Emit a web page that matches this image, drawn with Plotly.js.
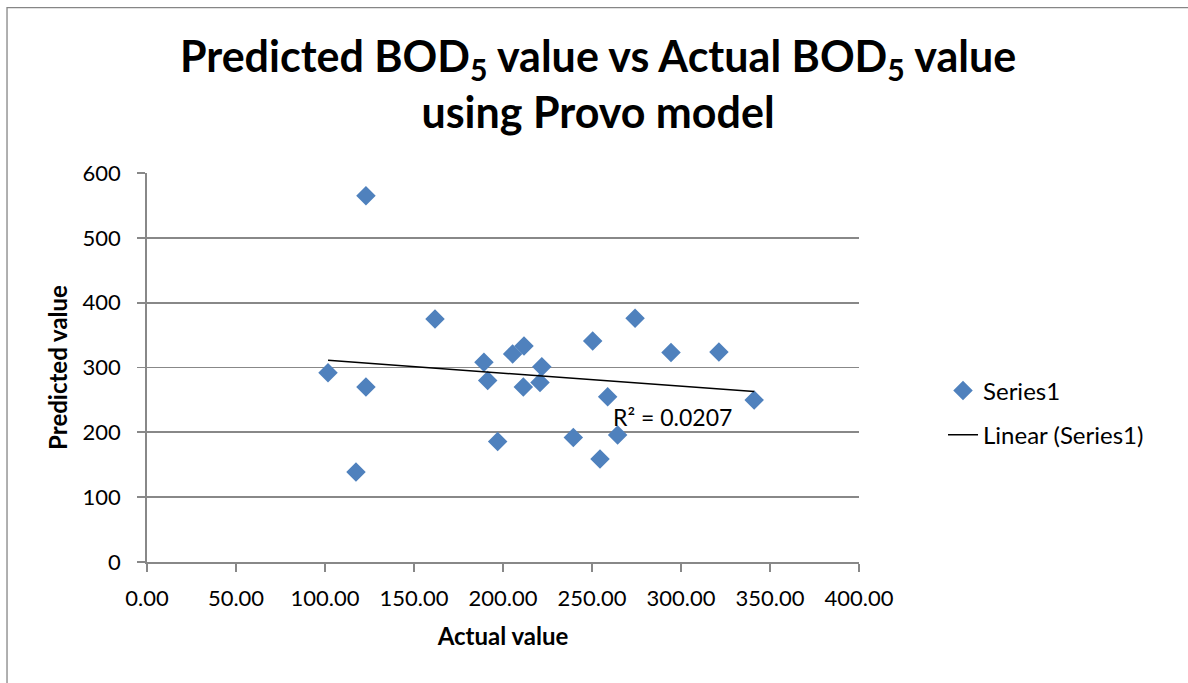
<!DOCTYPE html>
<html>
<head>
<meta charset="utf-8">
<script src="https://cdn.plot.ly/plotly-3.0.1.min.js"></script>
<style>html,body{margin:0;padding:0;background:#fff;}#chart{width:1188px;height:683px;}</style>
</head>
<body>
<div id="chart"></div>
<script>
// Data
const actual = [123.0, 101.7, 123.0, 117.4, 161.8, 189.3, 191.4, 197.0, 205.4, 211.8, 211.4, 221.8, 220.8, 239.5, 250.4, 254.5, 258.8, 264.4, 274.2, 294.4, 321.3, 341.1];
const predicted = [565, 292, 270, 139, 375, 308, 280, 186, 321, 333, 270, 301, 277, 192, 341, 159, 255, 196, 376, 323, 324, 250];
const seriesName = "Series1";
const trendName = "Linear (Series1)";
const r2Label = "R² = 0.0207";
const xTicks = [0, 50, 100, 150, 200, 250, 300, 350, 400];
const yTicks = [0, 100, 200, 300, 400, 500, 600];

// Linear least-squares trendline
const n = actual.length;
const mx = actual.reduce((a, b) => a + b, 0) / n;
const my = predicted.reduce((a, b) => a + b, 0) / n;
let sxy = 0, sxx = 0;
for (let i = 0; i < n; i++) { sxy += (actual[i] - mx) * (predicted[i] - my); sxx += (actual[i] - mx) ** 2; }
const slope = sxy / sxx, intercept = my - slope * mx;
const xmin = Math.min(...actual), xmax = Math.max(...actual);
const trendX = [xmin, xmax];
const trendY = trendX.map(x => intercept + slope * x);

const FONT = "Lato, 'Open Sans', sans-serif";
const GRID = "#888888";

const traces = [
  {
    x: actual, y: predicted, type: "scatter", mode: "markers", name: seriesName,
    marker: { symbol: "diamond", size: 15, color: "#4F81BD", line: { width: 0 } },
    legendgroup: "a"
  },
  {
    x: trendX, y: trendY, type: "scatter", mode: "lines", name: trendName,
    line: { color: "#000000", width: 1.5 },
    legendgroup: "b"
  }
];

const layout = {
  width: 1188, height: 683,
  margin: { l: 147, r: 329, t: 173, b: 121 },
  paper_bgcolor: "#ffffff", plot_bgcolor: "#ffffff",
  font: { family: FONT, size: 23, color: "#000000" },
  title: {
    text: "<b>Predicted BOD<sub>5</sub> value vs Actual BOD<sub>5</sub> value<br>using Provo model</b>",
    font: { family: FONT, size: 43, color: "#000000" },
    x: 0.5034, xanchor: "center", xref: "container",
    y: 0.8946, yanchor: "middle", yref: "container"
  },
  xaxis: {
    range: [0, 400], tickvals: xTicks, ticktext: xTicks.map(v => v.toFixed(2)),
    showgrid: false, zeroline: false, showline: true, linecolor: GRID, linewidth: 1.8,
    ticks: "outside", ticklen: 8, tickcolor: GRID, tickwidth: 1.8,
    ticklabelstandoff: 8,
    tickfont: { family: FONT, size: 22, color: "#000000" },
    title: { text: "<b>Actual value</b>", font: { family: FONT, size: 24, color: "#000000" }, standoff: 18 },
    fixedrange: true
  },
  yaxis: {
    range: [0, 600], tickvals: yTicks,
    showgrid: true, gridcolor: GRID, gridwidth: 1.8, zeroline: false,
    showline: true, linecolor: GRID, linewidth: 1.8,
    ticks: "outside", ticklen: 8, tickcolor: GRID, tickwidth: 1.8,
    ticklabelstandoff: 12,
    tickfont: { family: FONT, size: 22, color: "#000000" },
    title: { text: "<b>Predicted value</b>", font: { family: FONT, size: 24, color: "#000000" }, standoff: 8 },
    fixedrange: true
  },
  legend: {
    x: 1.118, xanchor: "left", y: 0.383, yanchor: "middle",
    font: { family: FONT, size: 24, color: "#000000" },
    bgcolor: "rgba(0,0,0,0)", tracegroupgap: 10
  },
  showlegend: true,
  annotations: [
    { x: 295, y: 224, xref: "x", yref: "y", text: r2Label, showarrow: false,
      font: { family: FONT, size: 23, color: "#000000" } }
  ],
  shapes: [
    { type: "rect", xref: "paper", yref: "paper", x0: -0.1966, x1: 1.48, y0: -0.35, y1: 1.425,
      line: { color: "#868686", width: 1.3 }, fillcolor: "rgba(0,0,0,0)", layer: "below" }
  ]
};

Plotly.newPlot("chart", traces, layout, { staticPlot: true, displayModeBar: false });
</script>
</body>
</html>
